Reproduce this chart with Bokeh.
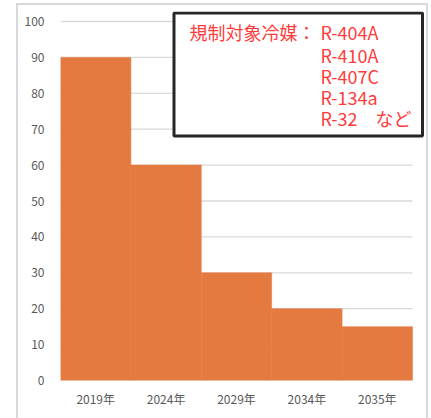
from bokeh.plotting import figure
from bokeh.models import Range1d, FixedTicker, BoxAnnotation, Label
from bokeh.embed import file_html
from bokeh.resources import INLINE

years = ["2019年", "2024年", "2029年", "2034年", "2035年"]
ratios = [90, 60, 30, 20, 15]
y_ticks = [0, 10, 20, 30, 40, 50, 60, 70, 80, 90, 100]
note_head = "規制対象冷媒："
refrigerants = ["R-404A", "R-410A", "R-407C", "R-134a", "R-32　など"]

FONT = "Noto Sans CJK JP"
n = len(years)
xc = [i + 0.5 for i in range(n)]

# frame: x 60..426 px (bars end at 412), y 11..380 px (100 at 21)
PX_X = 70.4
PX_Y = 3.59
p = figure(frame_width=366, frame_height=369,
           x_range=Range1d(0, n + 14 / PX_X),
           y_range=Range1d(0, 100 + 10 / PX_Y),
           output_backend="svg", toolbar_location=None,
           min_border_left=42, min_border_right=0,
           min_border_top=6, min_border_bottom=38)
p.styles = {"margin-left": "16px", "margin-top": "3px",
            "border-left": "2px solid #D9D9D9",
            "border-top": "2px solid #D9D9D9",
            "border-right": "2px solid #D9D9D9"}
p.outline_line_color = None
p.background_fill_color = "white"
p.border_fill_color = "white"
p.xgrid.grid_line_color = None
p.ygrid.grid_line_color = None

# horizontal gridlines spanning the category area only
p.segment(x0=[0] * len(y_ticks), x1=[n] * len(y_ticks), y0=y_ticks, y1=y_ticks,
          line_color="#D9D9D9", line_width=1.3)

p.vbar(x=xc, top=ratios, width=1.0, bottom=0,
       fill_color="#E57A41", line_color="#E57A41", line_width=0.5)

p.yaxis.ticker = FixedTicker(ticks=y_ticks)
p.xaxis.ticker = FixedTicker(ticks=xc)
p.xaxis.major_label_overrides = {x: y for x, y in zip(xc, years)}

for ax in (p.xaxis, p.yaxis):
    ax.axis_line_color = None
    ax.major_tick_line_color = None
    ax.minor_tick_line_color = None
    ax.major_label_text_color = "#595959"
    ax.major_label_text_font = FONT
    ax.major_label_text_font_size = "12px"
p.yaxis.major_label_standoff = 10
p.xaxis.major_label_standoff = 3

# note box
p.add_layout(BoxAnnotation(left=(173.5 - 60) / PX_X, right=(422 - 60) / PX_X,
                           top=(380 - 12.5) / PX_Y, bottom=(380 - 135.5) / PX_Y,
                           fill_color="white", fill_alpha=1,
                           line_color="#262626", line_alpha=1, line_width=3))

RED = "#FF3B3B"
x_head = (189 - 60) / PX_X
x_list = (320 - 60) / PX_X
centers_px = [31.7, 54.5, 75.5, 96.5, 117.5]
p.add_layout(Label(x=x_head, y=(380 - centers_px[0]) / PX_Y, text=note_head,
                   text_font=FONT, text_font_size="18px", text_color=RED,
                   text_baseline="middle", text_align="left"))
for name, cy in zip(refrigerants, centers_px):
    p.add_layout(Label(x=x_list, y=(380 - cy) / PX_Y, text=name,
                       text_font=FONT, text_font_size="18px", text_color=RED,
                       text_baseline="middle", text_align="left"))

open("out.html", "w").write(file_html(p, INLINE))
